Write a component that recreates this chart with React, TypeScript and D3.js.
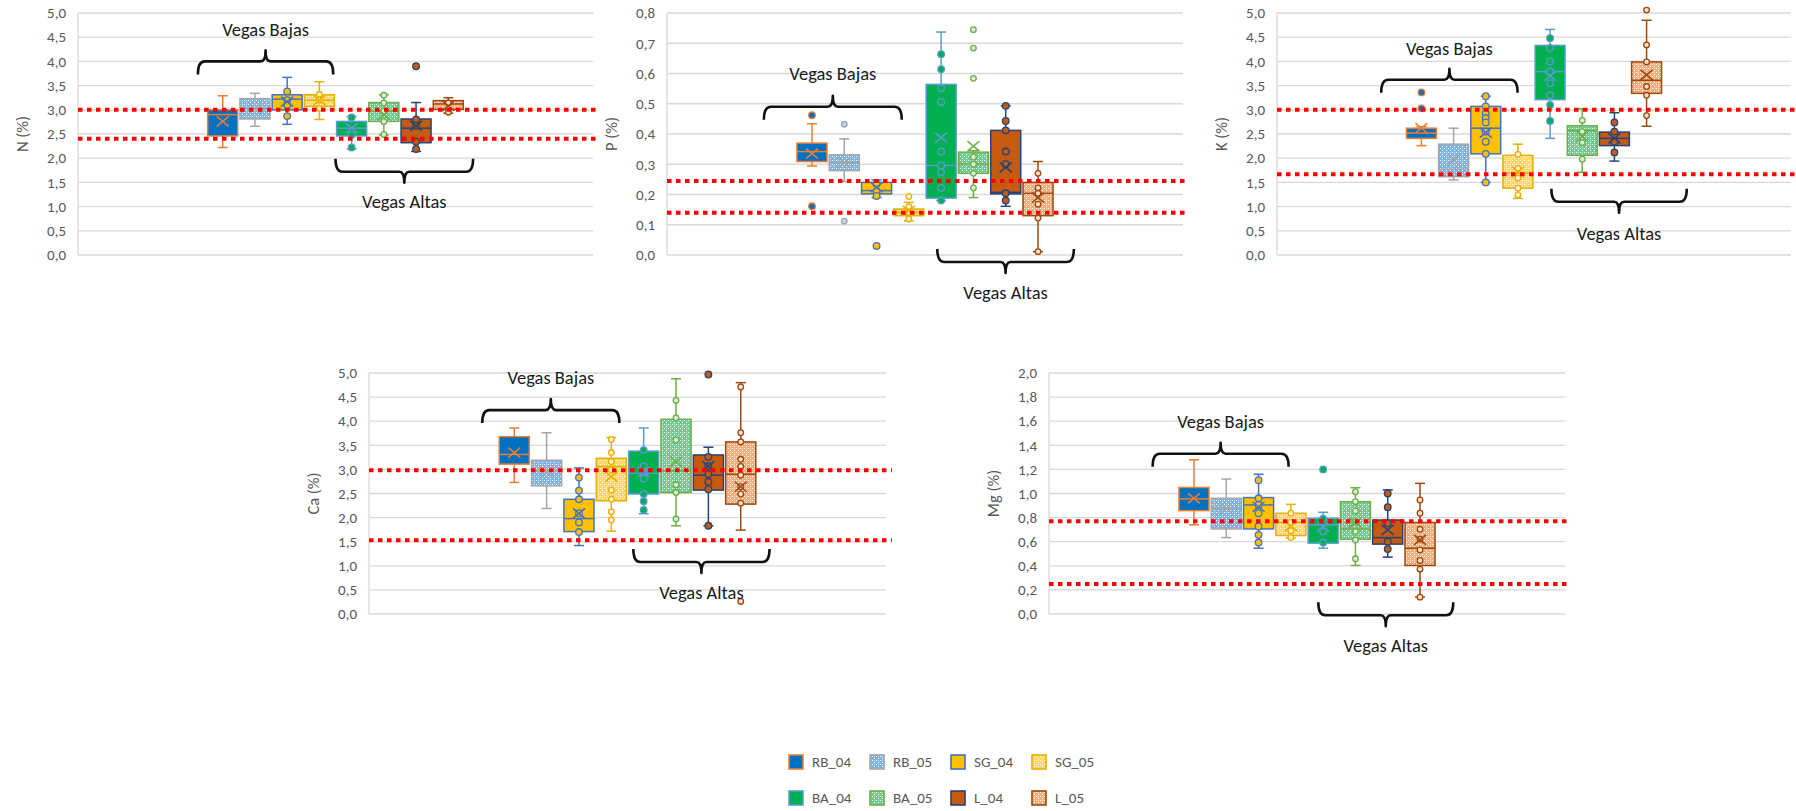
import React, { useEffect, useRef } from "react";
import * as d3 from "d3";

// series (sites x year)
const SERIES = ["RB_04", "RB_05", "SG_04", "SG_05", "BA_04", "BA_05", "L_04", "L_05"];

// box stats per series: [min, q1, median, q3, max, mean]
const nStats = [
  [2.22, 2.46, 2.9, 3.0, 3.29, 2.76],
  [2.66, 2.81, 3.03, 3.23, 3.34, 3.03],
  [2.7, 3.0, 3.22, 3.31, 3.67, 3.17],
  [2.8, 3.07, 3.2, 3.31, 3.58, 3.2],
  [2.19, 2.46, 2.62, 2.76, 2.86, 2.62],
  [2.48, 2.76, 2.97, 3.15, 3.31, 2.9],
  [2.14, 2.32, 2.62, 2.81, 3.15, 2.67],
  [2.93, 3.01, 3.12, 3.19, 3.25, 3.08],
];
const nPoints = [
  [],
  [],
  [3.38, 3.2, 3.1, 2.87],
  [3.32, 3.2, 3.03],
  [2.84, 2.48, 2.22],
  [3.3, 3.14, 2.97, 2.76, 2.49],
  [3.9, 2.8, 2.67, 2.34, 2.19],
  [3.14, 2.95],
];
const nRefs = [3.0, 2.4];

const pStats = [
  [0.294, 0.309, 0.342, 0.37, 0.434, 0.335],
  [0.243, 0.279, 0.305, 0.331, 0.384, 0.305],
  [0.19, 0.202, 0.213, 0.24, 0.248, 0.224],
  [0.113, 0.13, 0.141, 0.152, 0.174, 0.146],
  [0.18, 0.188, 0.296, 0.564, 0.737, 0.388],
  [0.19, 0.27, 0.301, 0.34, 0.345, 0.36],
  [0.161, 0.202, 0.207, 0.412, 0.493, 0.29],
  [0.011, 0.13, 0.204, 0.24, 0.309, 0.19],
];
const pPoints = [
  [0.462, 0.161],
  [0.432, 0.112],
  [0.235, 0.21, 0.195, 0.03],
  [0.193, 0.16, 0.141, 0.119],
  [0.664, 0.614, 0.551, 0.506, 0.342, 0.296, 0.274, 0.222, 0.18],
  [0.745, 0.684, 0.584, 0.324, 0.3, 0.27, 0.222],
  [0.493, 0.443, 0.412, 0.342, 0.3, 0.204, 0.18],
  [0.27, 0.222, 0.204, 0.168, 0.122, 0.011],
];
const pRefs = [0.245, 0.14];

const kStats = [
  [2.26, 2.41, 2.52, 2.62, 2.65, 2.62],
  [1.55, 1.62, 1.77, 2.29, 2.62, 1.97],
  [1.5, 2.09, 2.62, 3.07, 3.28, 2.53],
  [1.17, 1.38, 1.69, 2.06, 2.29, 1.72],
  [2.41, 3.21, 3.79, 4.33, 4.66, 3.7],
  [1.71, 2.06, 2.57, 2.67, 3.02, 2.45],
  [1.94, 2.26, 2.41, 2.54, 2.94, 2.41],
  [2.66, 3.34, 3.61, 3.99, 4.85, 3.72],
];
const kPoints = [
  [3.36, 3.03],
  [],
  [3.28, 3.07, 2.93, 2.83, 2.74, 2.55, 2.34, 2.09, 1.5],
  [2.08, 1.79, 1.59, 1.38, 1.24],
  [4.48, 4.28, 4.0, 3.79, 3.55, 3.3, 3.1, 2.77],
  [2.78, 2.55, 2.32, 1.98],
  [2.74, 2.55, 2.34, 2.12],
  [5.06, 4.34, 3.99, 3.48, 3.3, 2.88],
];
const kRefs = [3.0, 1.67];

const caStats = [
  [2.73, 3.11, 3.31, 3.68, 3.86, 3.35],
  [2.19, 2.66, 2.99, 3.19, 3.76, 2.95],
  [1.42, 1.71, 1.98, 2.38, 3.03, 2.09],
  [1.72, 2.35, 3.06, 3.23, 3.66, 2.85],
  [2.08, 2.49, 2.92, 3.38, 3.86, 2.95],
  [1.83, 2.52, 2.97, 4.04, 4.88, 3.16],
  [1.83, 2.57, 2.88, 3.3, 3.46, 3.07],
  [1.74, 2.28, 2.9, 3.57, 4.8, 2.64],
];
const caPoints = [
  [],
  [],
  [2.83, 2.56, 2.38, 2.09, 1.9, 1.7],
  [3.62, 3.35, 3.16, 2.99, 2.57, 2.38, 2.12, 1.95],
  [3.4, 3.06, 2.95, 2.81, 2.49, 2.34, 2.16],
  [4.43, 4.07, 3.61, 2.68, 2.52, 1.97],
  [4.97, 3.26, 3.07, 2.9, 2.74, 2.59, 1.83],
  [4.71, 3.76, 3.57, 3.21, 3.06, 2.88, 2.64, 2.49, 2.3, 0.26],
];
const caRefs = [2.98, 1.53];

const mgStats = [
  [0.74, 0.858, 0.955, 1.05, 1.28, 0.96],
  [0.634, 0.706, 0.877, 0.96, 1.12, 0.877],
  [0.546, 0.706, 0.905, 0.966, 1.16, 0.89],
  [0.63, 0.651, 0.759, 0.836, 0.91, 0.73],
  [0.546, 0.588, 0.74, 0.794, 0.844, 0.726],
  [0.403, 0.62, 0.706, 0.932, 1.048, 0.759],
  [0.472, 0.58, 0.634, 0.78, 1.03, 0.698],
  [0.14, 0.403, 0.546, 0.759, 1.084, 0.615],
];
const mgPoints = [
  [],
  [],
  [1.11, 0.96, 0.905, 0.836, 0.726, 0.657, 0.593],
  [0.836, 0.76, 0.69, 0.634],
  [1.2, 0.79, 0.684, 0.593],
  [1.015, 0.932, 0.855, 0.767, 0.684, 0.615, 0.458],
  [1.0, 0.886, 0.753, 0.6, 0.54],
  [0.946, 0.836, 0.703, 0.62, 0.532, 0.444, 0.372, 0.14],
];
const mgRefs = [0.77, 0.25];

// styles per series
const fillColor = ["#0070c0", "#7db3e3", "#ffc000", "#ffd75e", "#00b050", "#6fcb93", "#c55a11", "#f2ad7e"];
const lineColor = ["#ed7d31", "#a5a5a5", "#4472c4", "#e8b000", "#5b9bd5", "#70ad47", "#264478", "#9e480e"];
const markerFill = ["#0070c0", "#bdd7ee", "#ffc000", "#fff2cc", "#00b050", "#d5efdc", "#c55a11", "#fbe0cc"];
const patterned = [false, true, false, true, false, true, false, true];

const FONT = "Carlito, Lato, 'Open Sans', sans-serif";

// bracket annotations: slot range (box index units) and y in data units
const panels = [
  { title: "N (%)", stats: nStats, points: nPoints, refs: nRefs, max: 5, step: 0.5,
    left: 78, right: 593, top: 13, bottom: 255,
    bajas: { from: -0.77, to: 3.43, y: 4.0, text: 4.52 }, altas: { from: 3.5, to: 7.77, y: 1.72, text: 0.97 } },
  { title: "P (%)", stats: pStats, points: pPoints, refs: pRefs, max: 0.8, step: 0.1,
    left: 667, right: 1183, top: 13, bottom: 255,
    bajas: { from: -1.49, to: 2.78, y: 0.49, text: 0.578 }, altas: { from: 3.88, to: 8.11, y: -0.023, text: -0.146 } },
  { title: "K (%)", stats: kStats, points: kPoints, refs: kRefs, max: 5, step: 0.5,
    left: 1277, right: 1791, top: 13, bottom: 255,
    bajas: { from: -1.25, to: 2.99, y: 3.62, text: 4.13 }, altas: { from: 4.04, to: 8.25, y: 1.1, text: 0.31 } },
  { title: "Ca (%)", stats: caStats, points: caPoints, refs: caRefs, max: 5, step: 0.5,
    left: 369, right: 886, top: 373, bottom: 614,
    bajas: { from: -0.99, to: 3.25, y: 4.23, text: 4.77 }, altas: { from: 3.68, to: 7.89, y: 1.08, text: 0.31 } },
  { title: "Mg (%)", stats: mgStats, points: mgPoints, refs: mgRefs, max: 2, step: 0.2,
    left: 1049, right: 1565, top: 373, bottom: 614,
    bajas: { from: -1.28, to: 2.93, y: 1.33, text: 1.54 }, altas: { from: 3.85, to: 8.03, y: -0.01, text: -0.315 } },
];

const fmt = (v: number) => d3.format(".1f")(v).replace(".", ",");

const bracketPath = (x0: number, x1: number, y: number, dir: number) => {
  const xm = (x0 + x1) / 2;
  const e = 13 * dir;
  const t = -11 * dir;
  return `M${x0},${y + e} Q${x0},${y} ${x0 + 7},${y} L${xm - 5},${y} Q${xm},${y} ${xm},${y + t} ` +
    `Q${xm},${y} ${xm + 5},${y} L${x1 - 7},${y} Q${x1},${y} ${x1},${y + e}`;
};

const App = () => {
  const ref = useRef<SVGSVGElement>(null);

  useEffect(() => {
    const svg = d3.select(ref.current);
    svg.selectAll("*").remove();

    const fillOf = (i: number) => (patterned[i] ? `url(#pat-${SERIES[i]})` : fillColor[i]);

    // patterns for the 2005 series
    const defs = svg.append("defs");
    SERIES.forEach((s, i) => {
      if (!patterned[i]) return;
      const p = defs.append("pattern")
        .attr("id", `pat-${s}`)
        .attr("width", 4)
        .attr("height", 4)
        .attr("patternUnits", "userSpaceOnUse");
      p.append("rect").attr("width", 4).attr("height", 4).attr("fill", fillColor[i]);
      p.append("rect").attr("x", 0).attr("y", 0).attr("width", 1).attr("height", 1).attr("fill", "#ffffff");
      p.append("rect").attr("x", 2).attr("y", 2).attr("width", 1).attr("height", 1).attr("fill", "#ffffff");
      p.append("rect").attr("x", 2).attr("y", 0).attr("width", 1).attr("height", 1).attr("fill", "#ffffff").attr("opacity", 0.5);
    });

    panels.forEach((pn) => {
      const g = svg.append("g");
      const y = d3.scaleLinear().domain([0, pn.max]).range([pn.bottom, pn.top]);
      const group = d3.scaleBand().domain(["all"]).range([pn.left, pn.right]).paddingOuter(0.5);
      const x = d3.scaleBand()
        .domain(SERIES)
        .range([group("all")!, group("all")! + group.bandwidth()])
        .paddingInner(0.07)
        .paddingOuter(0.03);
      const bw = x.bandwidth();
      const slot = d3.scaleLinear()
        .domain([0, SERIES.length - 1])
        .range([x(SERIES[0])! + bw / 2, x(SERIES[SERIES.length - 1])! + bw / 2]);

      const ticks = d3.range(0, pn.max + pn.step / 2, pn.step);

      // gridlines
      g.selectAll(".grid")
        .data(ticks)
        .enter()
        .append("line")
        .attr("x1", pn.left)
        .attr("x2", pn.right)
        .attr("y1", (d) => y(d))
        .attr("y2", (d) => y(d))
        .attr("stroke", "#d9d9d9")
        .attr("stroke-width", 1.3);

      g.append("line")
        .attr("x1", pn.left)
        .attr("x2", pn.left)
        .attr("y1", y(pn.max))
        .attr("y2", y(0))
        .attr("stroke", "#d9d9d9")
        .attr("stroke-width", 1.3);

      // tick labels
      g.selectAll(".tick")
        .data(ticks)
        .enter()
        .append("text")
        .attr("x", pn.left - 12)
        .attr("y", (d) => y(d))
        .attr("dy", "0.35em")
        .attr("text-anchor", "end")
        .attr("font-family", FONT)
        .attr("font-size", 15)
        .attr("fill", "#595959")
        .text((d) => fmt(d));

      // axis title
      g.append("text")
        .attr("transform", `translate(${pn.left - 56}, ${(pn.top + pn.bottom) / 2}) rotate(-90)`)
        .attr("text-anchor", "middle")
        .attr("dy", "0.35em")
        .attr("font-family", FONT)
        .attr("font-size", 16.5)
        .attr("fill", "#595959")
        .text(pn.title);

      // boxes
      SERIES.forEach((s, i) => {
        const [mn, q1, md, q3, mx, mean] = pn.stats[i];
        const x0 = x(s)!;
        const cx = x0 + bw / 2;
        const lc = lineColor[i];

        const whisk = g.append("g").attr("stroke", lc).attr("stroke-width", 1.5);
        whisk.append("line").attr("x1", cx).attr("x2", cx).attr("y1", y(q3)).attr("y2", y(mx));
        whisk.append("line").attr("x1", cx).attr("x2", cx).attr("y1", y(q1)).attr("y2", y(mn));
        whisk.append("line").attr("x1", cx - 5).attr("x2", cx + 5).attr("y1", y(mx)).attr("y2", y(mx));
        whisk.append("line").attr("x1", cx - 5).attr("x2", cx + 5).attr("y1", y(mn)).attr("y2", y(mn));

        g.append("rect")
          .attr("x", x0)
          .attr("y", y(q3))
          .attr("width", bw)
          .attr("height", y(q1) - y(q3))
          .attr("fill", fillOf(i))
          .attr("stroke", lc)
          .attr("stroke-width", 1.5);

        g.append("line")
          .attr("x1", x0)
          .attr("x2", x0 + bw)
          .attr("y1", y(md))
          .attr("y2", y(md))
          .attr("stroke", lc)
          .attr("stroke-width", 1.5);

        g.selectAll(`.pt-${s}`)
          .data(pn.points[i])
          .enter()
          .append("circle")
          .attr("cx", cx)
          .attr("cy", (d) => y(d))
          .attr("r", patterned[i] ? 2.8 : 3.3)
          .attr("fill", markerFill[i])
          .attr("stroke", lc)
          .attr("stroke-width", 1.3);

        const my = y(mean);
        g.append("path")
          .attr("d", `M${cx - 6},${my - 5}L${cx + 6},${my + 5}M${cx - 6},${my + 5}L${cx + 6},${my - 5}`)
          .attr("stroke", lc)
          .attr("stroke-width", 1.6)
          .attr("fill", "none");
      });

      // reference lines
      g.selectAll(".ref")
        .data(pn.refs)
        .enter()
        .append("line")
        .attr("x1", pn.left)
        .attr("x2", pn.right + 6)
        .attr("y1", (d) => y(d))
        .attr("y2", (d) => y(d))
        .attr("stroke", "#ff0000")
        .attr("stroke-width", 4)
        .attr("stroke-dasharray", "4.5,4.5");

      // brackets
      [
        { b: pn.bajas, dir: 1, label: "Vegas Bajas" },
        { b: pn.altas, dir: -1, label: "Vegas Altas" },
      ].forEach(({ b, dir, label }) => {
        const x0 = slot(b.from);
        const x1 = slot(b.to);
        g.append("path")
          .attr("d", bracketPath(x0, x1, y(b.y), dir))
          .attr("fill", "none")
          .attr("stroke", "#111")
          .attr("stroke-width", 2.6)
          .attr("stroke-linejoin", "round");
        g.append("text")
          .attr("x", (x0 + x1) / 2)
          .attr("y", y(b.text))
          .attr("text-anchor", "middle")
          .attr("font-family", FONT)
          .attr("font-size", 18.5)
          .attr("fill", "#1a1a1a")
          .text(label);
      });
    });

    // legend
    const legX = d3.scalePoint().domain(["0", "1", "2", "3"]).range([789, 1032]);
    const legY = d3.scalePoint().domain(["0", "1"]).range([762, 798]);
    const legend = svg.append("g");
    SERIES.forEach((s, i) => {
      const lx = legX(String(i % 4))!;
      const ly = legY(String(Math.floor(i / 4)))!;
      legend.append("rect")
        .attr("x", lx)
        .attr("y", ly - 7)
        .attr("width", 14)
        .attr("height", 14)
        .attr("fill", fillOf(i))
        .attr("stroke", lineColor[i])
        .attr("stroke-width", 1.6);
      legend.append("text")
        .attr("x", lx + 23)
        .attr("y", ly)
        .attr("dy", "0.35em")
        .attr("font-family", FONT)
        .attr("font-size", 15)
        .attr("fill", "#595959")
        .text(s);
    });
  }, []);

  return (
    <svg
      ref={ref}
      width={1796}
      height={811}
      style={{ position: "absolute", left: 0, top: 0, background: "#fff" }}
    />
  );
};

export default App;
